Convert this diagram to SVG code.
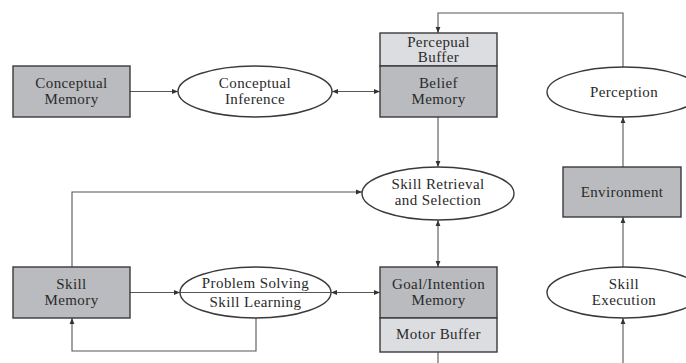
<svg xmlns="http://www.w3.org/2000/svg" width="686" height="363" viewBox="0 0 686 363">
  <style>
    .dark { fill: #b9bbbe; stroke: #3a3a3a; stroke-width: 1.4; }
    .light { fill: #dcdde0; stroke: #3a3a3a; stroke-width: 1.4; }
    .oval { fill: #ffffff; stroke: #3a3a3a; stroke-width: 1.4; }
    .conn { fill: none; stroke: #555; stroke-width: 1.1; }
    text { font-family: "Liberation Serif", "DejaVu Serif", serif; font-size: 15px; letter-spacing: 0.4px; fill: #2a2a2a; text-anchor: middle; }
  </style>
  <defs>
    <marker id="ah" viewBox="0 0 10 10" refX="10" refY="5" markerWidth="6" markerHeight="6" markerUnits="userSpaceOnUse" orient="auto-start-reverse">
      <path d="M0,1 L10,5 L0,9 Z" fill="#333"/>
    </marker>
  </defs>

  <g id="connectors">
    <path class="conn" d="M130,91.5 H178" marker-end="url(#ah)"/>
    <path class="conn" d="M332,91.5 H380" marker-start="url(#ah)" marker-end="url(#ah)"/>
    <path class="conn" d="M623,67 V13 H438 V33" marker-end="url(#ah)"/>
    <path class="conn" d="M623,167 V117" marker-end="url(#ah)"/>
    <path class="conn" d="M438,117 V167" marker-end="url(#ah)"/>
    <path class="conn" d="M72,267 V192 H362" marker-end="url(#ah)"/>
    <path class="conn" d="M438,220 V267" marker-start="url(#ah)" marker-end="url(#ah)"/>
    <path class="conn" d="M130,292.5 H180" marker-end="url(#ah)"/>
    <path class="conn" d="M331,292.5 H380" marker-start="url(#ah)" marker-end="url(#ah)"/>
    <path class="conn" d="M256,318 V351 H72 V318" marker-end="url(#ah)"/>
    <path class="conn" d="M438,352 V363"/>
    <path class="conn" d="M623,363 V318" marker-end="url(#ah)"/>
    <path class="conn" d="M623,267 V217" marker-end="url(#ah)"/>
  </g>

  <g id="conceptual-memory">
    <rect class="dark" x="13" y="66" width="117" height="51"/>
    <text x="71.5" y="87.5">Conceptual</text>
    <text x="71.5" y="103.5">Memory</text>
  </g>

  <g id="conceptual-inference">
    <ellipse class="oval" cx="255" cy="91.5" rx="77" ry="25.5"/>
    <text x="255" y="87.5">Conceptual</text>
    <text x="255" y="103.5">Inference</text>
  </g>

  <g id="belief-memory">
    <rect class="light" x="380" y="33" width="117" height="33"/>
    <text x="438.5" y="46.5">Percepual</text>
    <text x="438.5" y="62">Buffer</text>
    <rect class="dark" x="380" y="66" width="117" height="51"/>
    <text x="438.5" y="87.5">Belief</text>
    <text x="438.5" y="103.5">Memory</text>
  </g>

  <g id="perception">
    <ellipse class="oval" cx="624" cy="92" rx="77" ry="25"/>
    <text x="624" y="97">Perception</text>
  </g>

  <g id="environment">
    <rect class="dark" x="563" y="167" width="118" height="50"/>
    <text x="622" y="197">Environment</text>
  </g>

  <g id="skill-retrieval">
    <ellipse class="oval" cx="438" cy="193.5" rx="76" ry="26.5"/>
    <text x="438" y="189">Skill Retrieval</text>
    <text x="438" y="205">and Selection</text>
  </g>

  <g id="skill-memory">
    <rect class="dark" x="13" y="267" width="117" height="51"/>
    <text x="71.5" y="288.5">Skill</text>
    <text x="71.5" y="304.5">Memory</text>
  </g>

  <g id="problem-solving">
    <ellipse class="oval" cx="255.5" cy="292.5" rx="75.5" ry="25.5"/>
    <path class="conn" d="M180,292.5 H331" stroke="#333"/>
    <text x="255.5" y="288">Problem Solving</text>
    <text x="255.5" y="307">Skill Learning</text>
  </g>

  <g id="goal-memory">
    <rect class="dark" x="380" y="267" width="117" height="51"/>
    <text x="438.5" y="288.5">Goal/Intention</text>
    <text x="438.5" y="304.5">Memory</text>
    <rect class="light" x="380" y="318" width="117" height="34"/>
    <text x="438.5" y="339">Motor Buffer</text>
  </g>

  <g id="skill-execution">
    <ellipse class="oval" cx="624" cy="292.5" rx="77" ry="25.5"/>
    <text x="624" y="288.5">Skill</text>
    <text x="624" y="304.5">Execution</text>
  </g>
</svg>
